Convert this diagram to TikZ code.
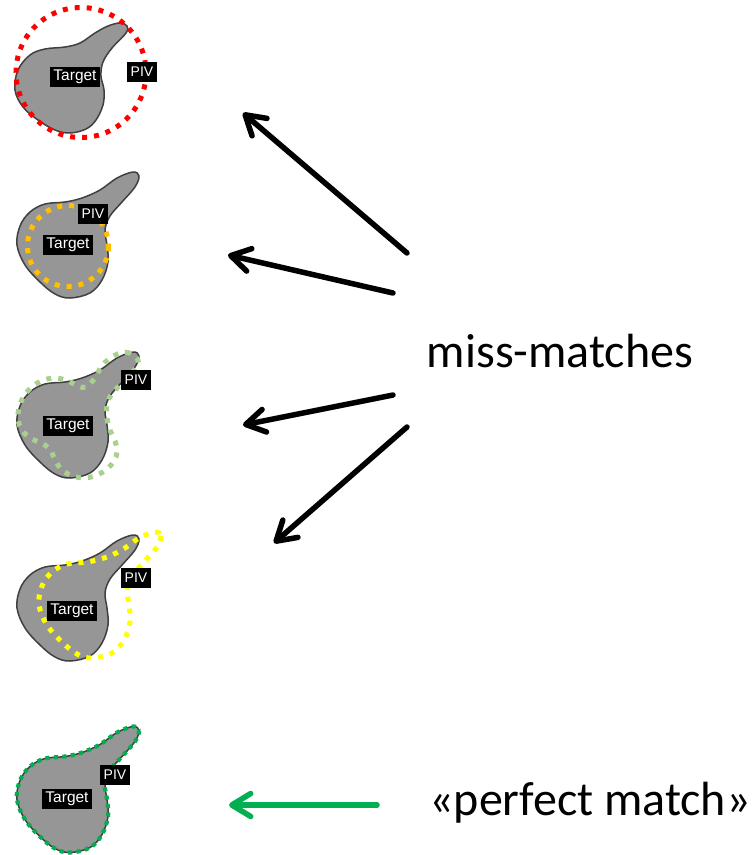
\documentclass[tikz,border=0pt]{standalone}
\usepackage{fontspec}
\newfontfamily\arialfont{Liberation Sans}
\newfontfamily\calibrifont{Carlito}
\usetikzlibrary{arrows.meta}

\definecolor{blobfill}{HTML}{969696}
\definecolor{blobline}{HTML}{404040}
\definecolor{pivred}{HTML}{FF0000}
\definecolor{pivorange}{HTML}{FFC000}
\definecolor{pivlightgreen}{HTML}{A9D18E}
\definecolor{pivyellow}{HTML}{FFFF00}
\definecolor{pivgreen}{HTML}{00B050}

\tikzset{
  % the target outline, in local coordinates (y grows downwards)
  target shape/.pic={
    \path[pic actions] plot[smooth cycle, tension=0.6] coordinates {
      (133,12) (139,16) (135,27) (122,42) (110,56) (105,70) (107,85)
      (108,102) (102,120) (90,133) (70,138) (55,134) (40,122) (25,105)
      (17,85) (20,66) (30,52) (45,44) (65,42) (82,38) (100,30) (117,18)};
  },
  target/.style={draw=blobline, fill=blobfill, line width=1.5pt},
  pivdots/.style={line width=5pt, dash pattern=on 5pt off 7pt},
  lab/.style={fill=black, text=white, inner xsep=3.5pt, inner ysep=0pt,
    minimum height=20.5pt, font=\arialfont\fontsize{15.5}{16}\selectfont},
  pivlab/.style={lab, inner xsep=4pt, font=\arialfont\fontsize{14}{15}\selectfont},
  bigtext/.style={font=\calibrifont\fontsize{48}{56}\selectfont, anchor=base, inner sep=0pt},
  pointer/.style={line width=5.5pt, line cap=round,
    -{Straight Barb[length=19pt, width=23pt, round]}},
}

\begin{document}
\begin{tikzpicture}[x=1pt, y=-1pt]
\useasboundingbox (0,0) rectangle (755,855);

% --- case 1: PIV volume too large (red) ---
\draw[target] plot[smooth cycle, tension=0.6] coordinates {
  (120,23) (127,26) (126,33) (112,48) (103,62) (101,76) (104,90)
  (103,105) (96,120) (86,129) (70,133) (55,130) (38,120) (23,107)
  (15,90) (18,70) (30,55) (45,49) (65,47) (80,43) (95,33) (108,26)};
\draw[pivdots, pivred] (81,72.5) circle [radius=65];
\node[lab] (tgt1) at (75,77) {Target};
\node[pivlab] (piv1) at (142,72) {PIV};

% --- case 2: PIV volume too small (orange) ---
\pic[target] at (0,160) {target shape};
\draw[pivdots, pivorange] (68,246) circle [radius=40.5];
\node[lab] (tgt2) at (68,245) {Target};
\node[pivlab] (piv2) at (93,214) {PIV};

% --- case 3: PIV volume rotated (light green) ---
\pic[target] at (0,340) {target shape};
\draw[pivdots, pivlightgreen] plot[smooth cycle, tension=0.6] coordinates {
  (138,360) (130,353) (120,353) (109,359) (101,367) (95,378) (86,387)
  (78,386) (68,381) (56,378) (44,380) (33,386) (24,396) (19,408)
  (18,420) (22,430) (30,438) (41,443) (50,449) (55,460) (62,470)
  (73,476) (85,478) (97,475) (107,469) (114,461) (117,452) (115,441)
  (110,430) (107,418) (107,405) (111,395) (120,385) (130,375) (137,366)};
\node[lab] (tgt3) at (68,426) {Target};
\node[pivlab] (piv3) at (136,380) {PIV};

% --- case 4: PIV volume shifted (yellow) ---
\pic[target] at (0,523) {target shape};
\pic[draw=pivyellow, pivdots] at (22,520) {target shape};
\node[lab] (tgt4) at (72,611) {Target};
\node[pivlab] (piv4) at (136,578) {PIV};

% --- case 5: perfect match (green) ---
\pic[target] at (0,714.5) {target shape};
\pic[draw=pivgreen, line width=4.2pt, dash pattern=on 4pt off 4.5pt] at (0,714.5) {target shape};
\node[lab] (tgt5) at (67,799) {Target};
\node[pivlab] (piv5) at (115,775) {PIV};

% --- captions ---
\node[bigtext] (miss) at (560,367) {miss-matches};
\node[bigtext] (perfect) at (590,815) {«perfect match»};

% --- pointers ---
\coordinate (m1) at (407,253); \coordinate (c1) at (243,113);
\coordinate (m2) at (393,293); \coordinate (c2) at (228,255);
\coordinate (m3) at (393,395); \coordinate (c3) at (243,425);
\coordinate (m4) at (407,427); \coordinate (c4) at (274,543);
\coordinate (p5) at (377,805); \coordinate (c5) at (229,805);
\draw[pointer] (m1) -- (c1);
\draw[pointer] (m2) -- (c2);
\draw[pointer] (m3) -- (c3);
\draw[pointer] (m4) -- (c4);
\draw[pointer, pivgreen] (p5) -- (c5);
\end{tikzpicture}
\end{document}
